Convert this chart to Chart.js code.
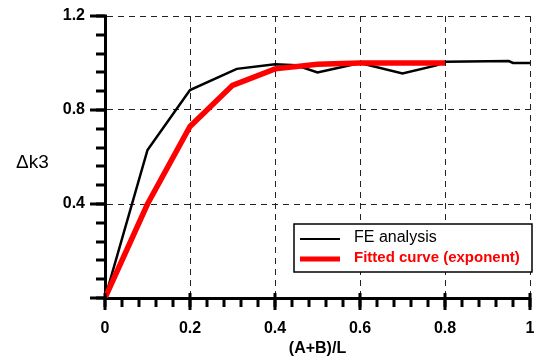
<!DOCTYPE html>
<html>
<head>
<meta charset="utf-8">
<script src="https://cdn.jsdelivr.net/npm/chart.js@4"></script>
<style>
  html, body { margin: 0; padding: 0; background: #fff; }
  #wrap { width: 534px; height: 358px; }
</style>
</head>
<body>
<div id="wrap"><canvas id="chart" width="534" height="358"></canvas></div>
<script>
// FE analysis data (black line)
const feX = [0, 0.1, 0.2, 0.31, 0.4, 0.45, 0.5, 0.55, 0.6, 0.7, 0.78, 0.8, 0.95, 0.96, 1.0];
const feY = [0, 0.63, 0.885, 0.975, 0.995, 0.99, 0.96, 0.98, 1.0, 0.955, 0.99, 1.005, 1.008, 1.0, 1.0];

// Fitted curve (exponent), red line
const fitX = [0, 0.1, 0.2, 0.3, 0.4, 0.5, 0.6, 0.7, 0.8];
const fitY = [0, 0.40, 0.73, 0.905, 0.975, 0.995, 1.0, 1.0, 1.0];

// Axis ticks (y has no label at 0)
const xTicks = [0, 0.2, 0.4, 0.6, 0.8, 1];
const yTicks = [0, 0.4, 0.8, 1.2];
const yTickLabels = ["", "0.4", "0.8", "1.2"];
const xMinorStep = 0.04;
const yMinorStep = 0.08;

const xTitle = "(A+B)/L";
const yTitle = "Δk3";
const legendLabels = ["FE analysis", "Fitted curve (exponent)"];

const FONT = "Arial, 'Liberation Sans', sans-serif";

function toPoints(xs, ys) {
  return xs.map((x, i) => ({ x: x, y: ys[i] }));
}

// no extra room for labels that hang over the plot edges
function noPad(s) {
  s.paddingTop = 0;
  s.paddingBottom = 0;
  s.paddingLeft = 0;
  s.paddingRight = 0;
}

// Draws tick marks, axis titles and the boxed legend
const decorPlugin = {
  id: "decor",
  afterDraw(chart) {
    const ctx = chart.ctx;
    const xs = chart.scales.x;
    const ys = chart.scales.y;
    const area = chart.chartArea;
    ctx.save();
    ctx.strokeStyle = "#000";
    ctx.lineWidth = 3;

    // minor ticks
    for (let v = 0; v <= 1.0001; v += xMinorStep) {
      const px = Math.round(xs.getPixelForValue(v));
      ctx.beginPath();
      ctx.moveTo(px, area.bottom);
      ctx.lineTo(px, area.bottom + 9);
      ctx.stroke();
    }
    for (let v = 0; v <= 1.2001; v += yMinorStep) {
      const py = Math.round(ys.getPixelForValue(v));
      ctx.beginPath();
      ctx.moveTo(area.left, py);
      ctx.lineTo(area.left - 9, py);
      ctx.stroke();
    }
    // major ticks
    xTicks.forEach(v => {
      const px = Math.round(xs.getPixelForValue(v));
      ctx.beginPath();
      ctx.moveTo(px, area.bottom - 5);
      ctx.lineTo(px, area.bottom + 12);
      ctx.stroke();
    });
    yTicks.forEach(v => {
      const py = Math.round(ys.getPixelForValue(v));
      ctx.beginPath();
      ctx.moveTo(area.left + 2, py);
      ctx.lineTo(area.left - 15, py);
      ctx.stroke();
    });

    // axis titles
    ctx.fillStyle = "#000";
    ctx.textBaseline = "middle";
    ctx.textAlign = "center";
    ctx.font = "bold 16px " + FONT;
    ctx.fillText(xTitle, (area.left + area.right) / 2, 349);
    ctx.textAlign = "left";
    ctx.font = "19px " + FONT;
    ctx.fillText(yTitle, 16, 163);

    // legend box
    const bx = 294, by = 224, bw = 238, bh = 48;
    ctx.fillStyle = "#fff";
    ctx.fillRect(bx, by, bw, bh);
    ctx.lineWidth = 1.5;
    ctx.strokeStyle = "#000";
    ctx.strokeRect(bx, by, bw, bh);

    ctx.lineWidth = 2;
    ctx.beginPath();
    ctx.moveTo(300, 239);
    ctx.lineTo(340, 239);
    ctx.stroke();
    ctx.fillStyle = "#000";
    ctx.font = "16px " + FONT;
    ctx.fillText(legendLabels[0], 354, 238);

    ctx.lineWidth = 5;
    ctx.strokeStyle = "#ff0000";
    ctx.beginPath();
    ctx.moveTo(300, 259);
    ctx.lineTo(340, 259);
    ctx.stroke();
    ctx.fillStyle = "#ff0000";
    ctx.font = "bold 15px " + FONT;
    ctx.fillText(legendLabels[1], 354, 258);
    ctx.restore();
  }
};

const ctx = document.getElementById("chart").getContext("2d");

const chart = new Chart(ctx, {
  type: "scatter",
  data: {
    datasets: [
      {
        label: legendLabels[1],
        data: toPoints(fitX, fitY),
        showLine: true,
        borderColor: "#ff0000",
        borderWidth: 5.5,
        pointRadius: 0,
        tension: 0,
        order: 0
      },
      {
        label: legendLabels[0],
        data: toPoints(feX, feY),
        showLine: true,
        borderColor: "#000",
        borderWidth: 2.5,
        pointRadius: 0,
        tension: 0,
        order: 1
      }
    ]
  },
  options: {
    responsive: false,
    animation: false,
    layout: { padding: { top: 16, right: 4, left: 0, bottom: 0 } },
    plugins: {
      legend: { display: false },
      tooltip: { enabled: false }
    },
    scales: {
      x: {
        type: "linear",
        min: 0,
        max: 1,
        afterFit: s => { s.height = 60; noPad(s); },
        afterBuildTicks: s => { s.ticks = xTicks.map(v => ({ value: v })); },
        ticks: {
          color: "#000",
          padding: 21,
          maxRotation: 0,
          font: { family: FONT, size: 16, weight: "bold" },
          callback: v => String(v)
        },
        grid: { color: "#222", lineWidth: 1, drawTicks: false },
        border: { display: true, color: "#000", width: 3, dash: [6, 5] }
      },
      y: {
        type: "linear",
        min: 0,
        max: 1.2,
        afterFit: s => { s.width = 105; noPad(s); },
        afterBuildTicks: s => { s.ticks = yTicks.map(v => ({ value: v })); },
        ticks: {
          color: "#000",
          padding: 20,
          font: { family: FONT, size: 16, weight: "bold" },
          callback: (v, i) => yTickLabels[i]
        },
        grid: { color: "#222", lineWidth: 1, drawTicks: false },
        border: { display: true, color: "#000", width: 3, dash: [6, 5] }
      }
    }
  },
  plugins: [decorPlugin]
});
</script>
</body>
</html>
